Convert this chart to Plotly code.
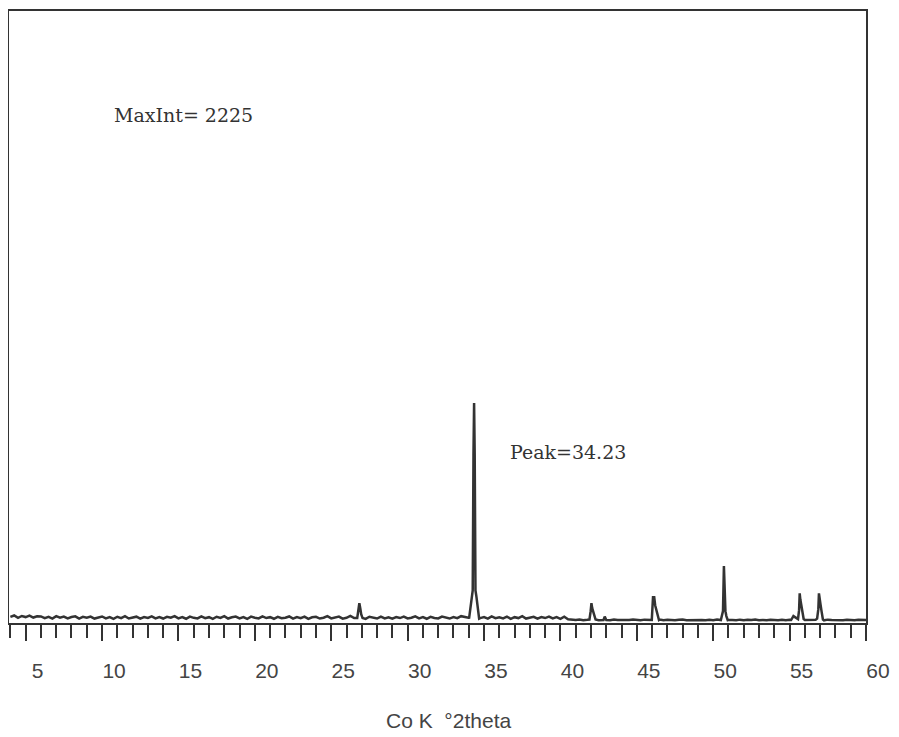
import numpy as np
import plotly.graph_objects as go

# ---- data ----
BASE_START = 4.0   # degrees 2theta
BASE_STEP = 0.25
base_counts = [
    62, 76, 52, 71, 60, 74, 55, 68, 66, 49, 62, 45, 70, 53, 64, 47, 60, 67, 44, 62,
    53, 65, 45, 59, 66, 47, 60, 42, 63, 50, 69, 46, 58, 64, 44, 60, 51, 67, 47, 59,
    45, 63, 53, 70, 47, 60, 43, 65, 52, 46, 66, 49, 59, 42, 63, 51, 69, 45, 58, 65,
    47, 60, 41, 64, 53, 46, 67, 50, 59, 43, 63, 49, 53, 66, 44, 60, 48, 65, 42, 58,
    63, 45, 53, 69, 47, 60, 65, 44, 53, 72, 50, 46, 59, 42, 63, 51, 45, 65, 47, 58,
    44, 60, 50, 64, 46, 53, 67, 47, 59, 43, 63, 51, 46, 65, 53, 45, 60, 49, 69, 62,
    53, 47, 42, 50, 60, 44, 66, 49, 58, 46, 64, 42, 59, 50, 69, 45, 53, 63, 44, 60,
    50, 65, 46, 59, 42, 63, 38, 33, 30, 35, 28, 32, 36, 30, 27, 34, 31, 29, 35, 30,
    28, 33, 30, 36, 29, 27, 34, 31, 30, 28, 35, 29, 32, 30, 27, 33, 36, 29, 31, 28,
    34, 30, 27, 32, 29, 35, 31, 28, 33, 30, 27, 34, 29, 32, 30, 36, 28, 31, 27, 33,
    30, 28, 34, 29, 32, 27, 31, 35, 30, 28, 33, 29, 31, 27, 34, 30, 28, 32, 29, 33,
    30, 27, 32, 29, 31,
]

peak_26_x = [26.70, 26.78, 26.84, 26.90, 26.96, 27.05]
peak_26_y = [50, 120, 200, 150, 90, 50]

peak_34_x = [34.02, 34.10, 34.20, 34.26, 34.31, 34.35, 34.39, 34.44, 34.50, 34.60, 34.68]
peak_34_y = [45, 140, 270, 330, 1700, 2225, 1700, 330, 270, 140, 45]

peak_42_x = [41.90, 41.98, 42.03, 42.08, 42.14, 42.22, 42.30]
peak_42_y = [35, 120, 200, 150, 110, 60, 35]

bump_43_x = [42.82, 42.90, 42.98]
bump_43_y = [30, 65, 30]

peak_46_x = [45.98, 46.06, 46.14, 46.20, 46.26, 46.36, 46.45]
peak_46_y = [30, 260, 260, 180, 140, 60, 30]

peak_51_x = [50.50, 50.58, 50.64, 50.70, 50.76, 50.80, 50.86, 50.95]
peak_51_y = [30, 70, 120, 575, 300, 120, 70, 30]

peak_56_x = [55.10, 55.25, 55.40, 55.55, 55.62, 55.66, 55.70, 55.76, 55.84, 55.92, 56.00]
peak_56_y = [30, 70, 55, 40, 130, 300, 240, 180, 120, 40, 30]

peak_57_x = [56.70, 56.80, 56.88, 56.92, 56.96, 57.02, 57.10, 57.18]
peak_57_y = [32, 45, 140, 300, 230, 190, 110, 35]

tick_vals = [5, 10, 15, 20, 25, 30, 35, 40, 45, 50, 55, 60]
tick_text = ["5", "10", "15", "20", "25", "30", "35", "40", "45", "50", "55", "60"]

max_int_text = "MaxInt= 2225"
peak_text = "Peak=34.23"
x_title = "Co K  °2theta"

# ---- merge baseline with peaks ----
base_x = BASE_START + BASE_STEP * np.arange(len(base_counts))
peaks = [(peak_26_x, peak_26_y), (peak_34_x, peak_34_y), (peak_42_x, peak_42_y),
         (bump_43_x, bump_43_y), (peak_46_x, peak_46_y), (peak_51_x, peak_51_y),
         (peak_56_x, peak_56_y), (peak_57_x, peak_57_y)]
pts = []
for bx, by in zip(base_x, base_counts):
    if any(px[0] <= bx <= px[-1] for px, _ in peaks):
        continue
    pts.append((float(bx), by))
for px, py in peaks:
    pts.extend(zip(px, py))
pts.sort()
xs = [p[0] for p in pts]
ys = [p[1] for p in pts]

line_col = "#333333"
sans = "Liberation Sans Narrow, Liberation Sans, Arial, sans-serif"

fig = go.Figure()
fig.add_trace(go.Scatter(x=xs, y=ys, mode="lines",
                         line=dict(color=line_col, width=2.5), showlegend=False,
                         hoverinfo="skip"))

fig.update_layout(
    width=899, height=737,
    margin=dict(l=1, r=41, t=3, b=122, autoexpand=False),
    paper_bgcolor="white", plot_bgcolor="white",
    xaxis=dict(
        range=[3.91, 60], showgrid=False, zeroline=False, automargin=False,
        showline=True, mirror=True, linecolor=line_col, linewidth=2,
        tickmode="array", tickvals=tick_vals, ticktext=tick_text,
        ticks="outside", ticklen=16, tickwidth=1.5, tickcolor=line_col,
        minor=dict(dtick=1, tick0=0, ticks="outside", ticklen=13,
                   tickwidth=1.5, tickcolor=line_col, showgrid=False),
        tickfont=dict(family=sans, size=21, color="#444444"),
        ticklabelshift=12, ticklabelstandoff=12,
    ),
    yaxis=dict(
        range=[0, 6190], showgrid=False, zeroline=False, automargin=False,
        showline=True, mirror=True, linecolor=line_col, linewidth=2,
        showticklabels=False, ticks="",
    ),
    annotations=[
        dict(text=max_int_text, xref="paper", yref="paper", x=0.120, y=0.830,
             xanchor="left", yanchor="middle", showarrow=False,
             font=dict(family="DejaVu Serif, serif", size=19, color="#333333")),
        dict(text=peak_text, xref="paper", yref="paper", x=0.582, y=0.279,
             xanchor="left", yanchor="middle", showarrow=False,
             font=dict(family="DejaVu Serif, serif", size=19, color="#333333")),
        dict(text=x_title, xref="paper", yref="paper", x=0.513, y=-0.160,
             xanchor="center", yanchor="middle", showarrow=False,
             font=dict(family=sans, size=21, color="#444444")),
    ],
)

fig.write_html("out.html")
